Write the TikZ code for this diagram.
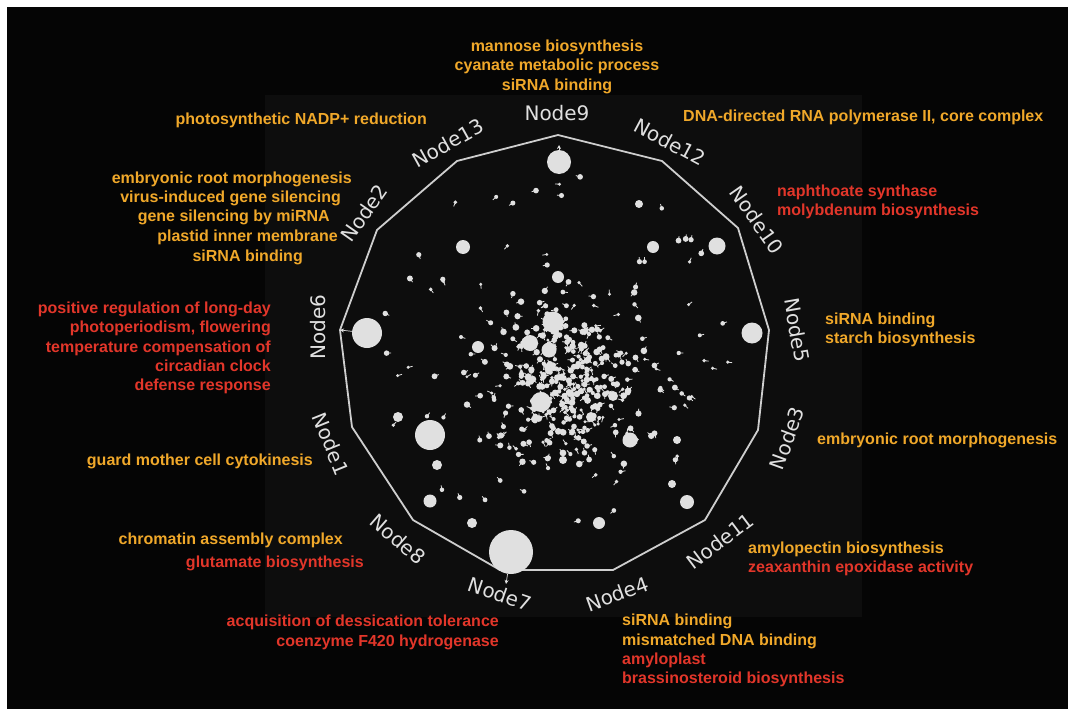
\documentclass[tikz,border=0pt]{standalone}
\usepackage{fontspec}
\setmainfont{Liberation Sans}
\newfontfamily\nodefam{DejaVu Sans}
\usepackage{tikz}
\usetikzlibrary{positioning,arrows.meta}
\usepackage{xcolor}
\definecolor{termgold}{RGB}{240,168,42}
\definecolor{termred}{RGB}{226,54,42}
\definecolor{pale}{RGB}{224,224,224}
\definecolor{rim}{RGB}{206,206,206}
\definecolor{bgdark}{RGB}{5,5,5}
\definecolor{bginner}{RGB}{13,13,13}

\begin{document}
\begin{tikzpicture}[x=1pt,y=-1pt,>={Stealth[length=4pt,width=4pt]},
  term/.style={font=\bfseries\fontsize{16}{19.2}\selectfont,inner sep=0pt},
  nname/.style={font=\nodefam\fontsize{20}{20}\selectfont,text=pale,inner sep=0pt},
  bub/.style={circle,fill=pale,inner sep=0pt},
  speck/.style={fill=pale},
  tick/.style={draw=pale,line width=0.8pt}]
\useasboundingbox (0,0) rectangle (1068,709);
\fill[white] (0,0) rectangle (1068,709);
\fill[bgdark] (7,7) rectangle (1068,709);
\fill[bginner] (265,95) rectangle (862,617);

\foreach \n/\x/\y in {9/558/135,12/662/161,10/738/228,5/769/330,3/758/430,11/705/520,4/613/570,7/500/570,8/413/520,1/352/427,6/340/330,2/377/230,13/457/161}
  \coordinate (v\n) at (\x,\y);
\draw[rim,line width=1.8pt,line join=round] (v9) -- (v12) -- (v10) -- (v5) -- (v3) -- (v11) -- (v4) -- (v7) -- (v8) -- (v1) -- (v6) -- (v2) -- (v13) -- cycle;

\pgfmathsetseed{42}
\foreach \i in {1,...,340}{
  \pgfmathsetmacro\px{568+37*(rand+rand+rand)}
  \pgfmathsetmacro\py{378+39*(rand+rand+rand)}
  \pgfmathsetmacro\pr{1.6+1.8*rnd}
  \pgfmathsetmacro\pa{360*rnd}
  \fill[speck] (\px,\py) circle[radius=\pr];
  \draw[tick] (\px,\py) -- ++(\pa:5);
}
\foreach \i in {1,...,90}{
  \pgfmathsetmacro\pa{360*rnd}
  \pgfmathsetmacro\pd{180*sqrt(rnd)}
  \pgfmathsetmacro\pr{1.5+1.5*rnd}
  \fill[speck] ({555+\pd*cos(\pa)},{352+\pd*sin(\pa)}) circle[radius=\pr];
  \draw[tick] ({555+\pd*cos(\pa)},{352+\pd*sin(\pa)}) -- ++({\pa*2}:4.5);
}

\foreach \x/\y/\r in {717/246/8.5,752/333/10.5,430/435/15,687/502/7,430/501/6.5,553/322/10.5,530/343/8,549/350/7.5,541/402/10,630/440/7.5,463/247/7,653/247/6,558/277/6,599/523/6,472/523/5,478/347/6,613/396/5,591/417/5,398/417/5,677/440/4,437/465/5,563/460/4,672/484/4,639/204/4}
  \fill[pale] (\x,\y) circle[radius=\r];

\node[bub,minimum size=24pt] (b9) at (559,162) {};
\node[bub,minimum size=30pt] (b6) at (367,333) {};
\node[bub,minimum size=44pt] (b7) at (511,552) {};
\coordinate (a9) at (559,145);
\coordinate (a7) at (506,584);
\draw[->,pale,line width=0.7pt] (b9) -- (a9);
\draw[->,pale,line width=0.7pt] (b6) -- (v6);
\draw[->,pale,line width=0.7pt] (b7) -- (a7);

\node[nname] (n9) at (557,113) {Node9};
\node[nname,rotate=-28] (n12) at (670,142) {Node12};
\node[nname,rotate=-55] (n10) at (757,220) {Node10};
\node[nname,rotate=-80] (n5) at (797,330) {Node5};
\node[nname,rotate=70] (n3) at (787,438) {Node3};
\node[nname,rotate=37] (n11) at (720,541) {Node11};
\node[nname,rotate=20] (n4) at (617,594) {Node4};
\node[nname,rotate=-19] (n7) at (500,594) {Node7};
\node[nname,rotate=-41] (n8) at (398,539) {Node8};
\node[nname,rotate=-68] (n1) at (331,444) {Node1};
\node[nname,rotate=90] (n6) at (318,327) {Node6};
\node[nname,rotate=55] (n2) at (364,213) {Node2};
\node[nname,rotate=29] (n13) at (448,143) {Node13};

\node[term,text=termgold,align=center,anchor=north] (t9) at (557,40) {mannose biosynthesis\\cyanate metabolic process\\siRNA binding};
\node[term,text=termgold,anchor=east] (t13) at (427,120) {photosynthetic NADP+ reduction};
\node[term,text=termgold,anchor=west] (t12) at (683,117) {DNA-directed RNA polymerase II, core complex};
\node[term,text=termgold,anchor=east] (t2a) at (352,179) {embryonic root morphogenesis};
\node[term,text=termgold,anchor=east] (t2b) at (341,198) {virus-induced gene silencing};
\node[term,text=termgold,anchor=east] (t2c) at (330,217) {gene silencing by miRNA};
\node[term,text=termgold,anchor=east] (t2d) at (338,237) {plastid inner membrane};
\node[term,text=termgold,anchor=east] (t2e) at (303,257) {siRNA binding};
\node[term,text=termred,align=left,anchor=north west] (t10) at (777,185) {naphthoate synthase\\molybdenum biosynthesis};
\node[term,text=termred,align=right,anchor=north east] (t6) at (271,302) {positive regulation of long-day\\photoperiodism, flowering\\temperature compensation of\\circadian clock\\defense response};
\node[term,text=termgold,align=left,anchor=north west] (t5) at (825,313) {siRNA binding\\starch biosynthesis};
\node[term,text=termgold,anchor=west] (t3) at (817,440) {embryonic root morphogenesis};
\node[term,text=termgold,anchor=east] (t1) at (313,461) {guard mother cell cytokinesis};
\node[term,text=termgold,anchor=east] (t8a) at (343,540) {chromatin assembly complex};
\node[term,text=termred,anchor=east] (t8b) at (364,563) {glutamate biosynthesis};
\node[term,align=left,anchor=north west] (t11) at (748,542) {\color{termgold}amylopectin biosynthesis\\\color{termred}zeaxanthin epoxidase activity};
\node[term,text=termred,align=right,anchor=north east] (t7) at (499,615) {acquisition of dessication tolerance\\coenzyme F420 hydrogenase};
\node[term,align=left,anchor=north west] (t4) at (622,614) {\color{termgold}siRNA binding\\\color{termgold}mismatched DNA binding\\\color{termred}amyloplast\\\color{termred}brassinosteroid biosynthesis};
\end{tikzpicture}
\end{document}
